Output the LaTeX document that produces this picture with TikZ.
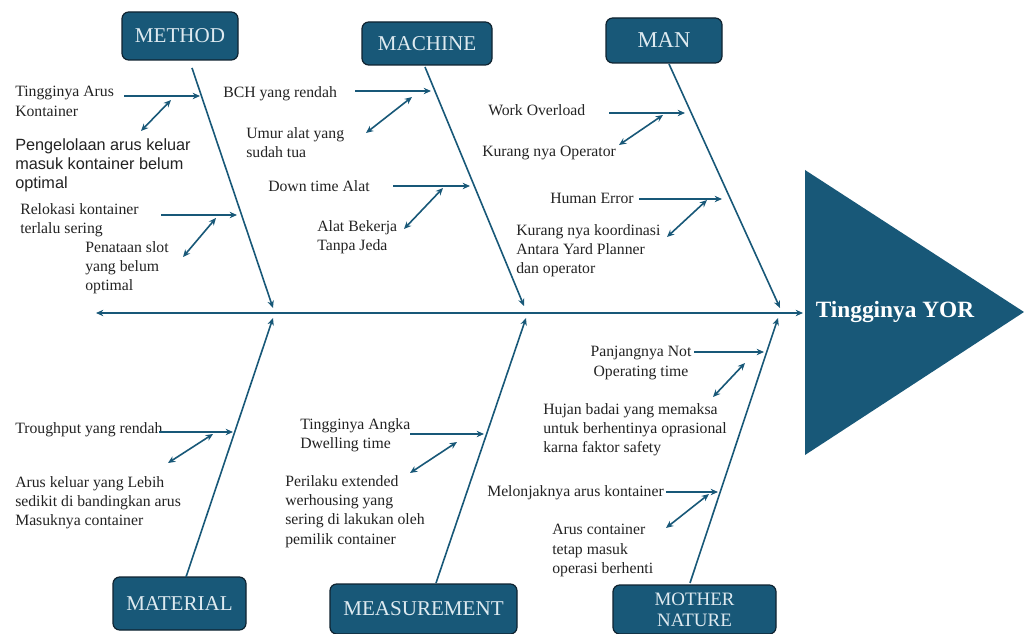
\documentclass[tikz,border=0pt]{standalone}
\usepackage{fontspec}
\setmainfont{Liberation Serif}
\setsansfont{Liberation Sans}
\usetikzlibrary{arrows.meta}
\definecolor{teal1}{RGB}{24,88,120}
\definecolor{bord}{RGB}{15,35,48}
\definecolor{lab}{RGB}{222,234,240}
\definecolor{ink}{RGB}{35,35,35}
\begin{document}
\begin{tikzpicture}[x=0.75pt,y=-0.75pt,
  catbox/.style={draw=bord, line width=0.9pt, fill=teal1, rounded corners=5pt, text=lab,
    font=\fontsize{15.8}{17}\selectfont, inner sep=0pt, align=center},
  cause/.style={text=ink, font=\fontsize{11.8}{14.5}\selectfont, inner sep=0pt, align=left, anchor=north west},
  causesans/.style={cause, font=\sffamily\fontsize{12.2}{14.5}\selectfont},
  tip/.tip={Stealth[length=5.5pt,width=4.8pt]},
  bone/.style={draw=teal1, line width=1.2pt, -tip},
  sub/.style={draw=teal1, line width=1.2pt, -tip},
  link/.style={draw=teal1, line width=1.2pt, tip-tip}]
\useasboundingbox (0,0) rectangle (1024,634);
\fill[white] (0,0) rectangle (1024,634);

% head
\fill[teal1] (805,170) -- (1024,312) -- (805,455) -- cycle;
\node[text=white, font=\bfseries\fontsize{17.5}{20}\selectfont, inner sep=0pt] (head) at (895,312) {Tingginya YOR};

% category boxes
\node[catbox, minimum width=87pt, minimum height=36pt] (method) at (180,36) {METHOD};
\node[catbox, minimum width=97.5pt, minimum height=32.25pt] (machine) at (427,43.5) {MACHINE};
\node[catbox, minimum width=87pt, minimum height=33.75pt, font=\fontsize{17}{18}\selectfont] (man) at (664,40.5) {MAN};
\node[catbox, minimum width=99.75pt, minimum height=39.75pt] (material) at (179.5,603.5) {MATERIAL};
\node[catbox, minimum width=140.25pt, minimum height=37.5pt] (measurement) at (423.5,609) {MEASUREMENT};
\node[catbox, minimum width=122.25pt, minimum height=36.75pt, font=\fontsize{14.2}{15.8}\selectfont] (nature) at (694.5,609.5) {MOTHER\\NATURE};

% spine
\coordinate (tail) at (96,313);
\coordinate (tip) at (803,313);
\draw[link] (tail) -- (tip);

% bones
\coordinate (b1s) at (192,68);  \coordinate (b1e) at (273,308);
\coordinate (b2s) at (425,67);  \coordinate (b2e) at (524,306);
\coordinate (b3s) at (669,64);  \coordinate (b3e) at (780,308);
\coordinate (b4s) at (186,577); \coordinate (b4e) at (273,318);
\coordinate (b5s) at (436,583); \coordinate (b5e) at (526,318);
\coordinate (b6s) at (690,583); \coordinate (b6e) at (778,318);
\draw[bone] (b1s) -- (b1e);
\draw[bone] (b2s) -- (b2e);
\draw[bone] (b3s) -- (b3e);
\draw[bone] (b4s) -- (b4e);
\draw[bone] (b5s) -- (b5e);
\draw[bone] (b6s) -- (b6e);

% METHOD causes
\node[cause] (t1) at (15,86) {Tingginya Arus\\Kontainer};
\node[causesans] (t2) at (15,138) {Pengelolaan arus keluar\\masuk kontainer belum\\optimal};
\node[cause] (t3) at (20,203) {Relokasi kontainer\\terlalu sering};
\node[cause] (t4) at (85,241) {Penataan slot\\yang belum\\optimal};
\coordinate (a1s) at (124,96);  \coordinate (a1e) at (200,96);
\coordinate (d1s) at (171,100); \coordinate (d1e) at (141,131);
\coordinate (a2s) at (161,215); \coordinate (a2e) at (237,215);
\coordinate (d2s) at (216,218); \coordinate (d2e) at (183,257);
\draw[sub] (a1s) -- (a1e);
\draw[link] (d1s) -- (d1e);
\draw[sub] (a2s) -- (a2e);
\draw[link] (d2s) -- (d2e);

% MACHINE causes
\node[cause] (t5) at (223,86) {BCH yang rendah};
\node[cause] (t6) at (246,127) {Umur alat yang\\sudah tua};
\node[cause] (t7) at (268,180) {Down time Alat};
\node[cause] (t8) at (317,220) {Alat Bekerja\\Tanpa Jeda};
\coordinate (a3s) at (355,91);  \coordinate (a3e) at (431,91);
\coordinate (d3s) at (412,97);  \coordinate (d3e) at (366,133);
\coordinate (a4s) at (393,186); \coordinate (a4e) at (470,186);
\coordinate (d4s) at (443,188); \coordinate (d4e) at (404,229);
\draw[sub] (a3s) -- (a3e);
\draw[link] (d3s) -- (d3e);
\draw[sub] (a4s) -- (a4e);
\draw[link] (d4s) -- (d4e);

% MAN causes
\node[cause] (t9) at (488,104) {Work Overload};
\node[cause] (t10) at (482,146) {Kurang nya Operator};
\node[cause] (t11) at (550,193) {Human Error};
\node[cause] (t12) at (516,224) {Kurang nya koordinasi\\Antara Yard Planner\\dan operator};
\coordinate (a5s) at (609,113); \coordinate (a5e) at (685,113);
\coordinate (d5s) at (663,115); \coordinate (d5e) at (619,145);
\coordinate (a6s) at (639,199); \coordinate (a6e) at (722,199);
\coordinate (d6s) at (707,200); \coordinate (d6e) at (667,237);
\draw[sub] (a5s) -- (a5e);
\draw[link] (d5s) -- (d5e);
\draw[sub] (a6s) -- (a6e);
\draw[link] (d6s) -- (d6e);

% MATERIAL causes
\node[cause] (t13) at (15,422) {Troughput yang rendah};
\node[cause] (t14) at (15,476) {Arus keluar yang Lebih\\sedikit di bandingkan arus\\Masuknya container};
\coordinate (a7s) at (159,432); \coordinate (a7e) at (233,432);
\coordinate (d7s) at (213,434); \coordinate (d7e) at (168,463);
\draw[sub] (a7s) -- (a7e);
\draw[link] (d7s) -- (d7e);

% MEASUREMENT causes
\node[cause] (t15) at (300,418) {Tingginya Angka\\Dwelling time};
\node[cause] (t16) at (285,475) {Perilaku extended\\werhousing yang\\sering di lakukan oleh\\pemilik container};
\coordinate (a8s) at (410,434); \coordinate (a8e) at (484,434);
\coordinate (d8s) at (457,442); \coordinate (d8e) at (410,473);
\draw[sub] (a8s) -- (a8e);
\draw[link] (d8s) -- (d8e);

% MOTHER NATURE causes
\node[cause, anchor=north, align=center] (t17) at (641,346) {Panjangnya Not\\Operating time};
\node[cause] (t18) at (543,403) {Hujan badai yang memaksa\\untuk berhentinya oprasional\\karna faktor safety};
\node[cause] (t19) at (487,485) {Melonjaknya arus kontainer};
\node[cause] (t20) at (552,524) {Arus container\\tetap masuk\\operasi berhenti};
\coordinate (a9s) at (694,352);  \coordinate (a9e) at (764,352);
\coordinate (d9s) at (745,363);  \coordinate (d9e) at (713,397);
\coordinate (a10s) at (666,492); \coordinate (a10e) at (718,492);
\coordinate (d10s) at (709,494); \coordinate (d10e) at (666,528);
\draw[sub] (a9s) -- (a9e);
\draw[link] (d9s) -- (d9e);
\draw[sub] (a10s) -- (a10e);
\draw[link] (d10s) -- (d10e);
\end{tikzpicture}
\end{document}
